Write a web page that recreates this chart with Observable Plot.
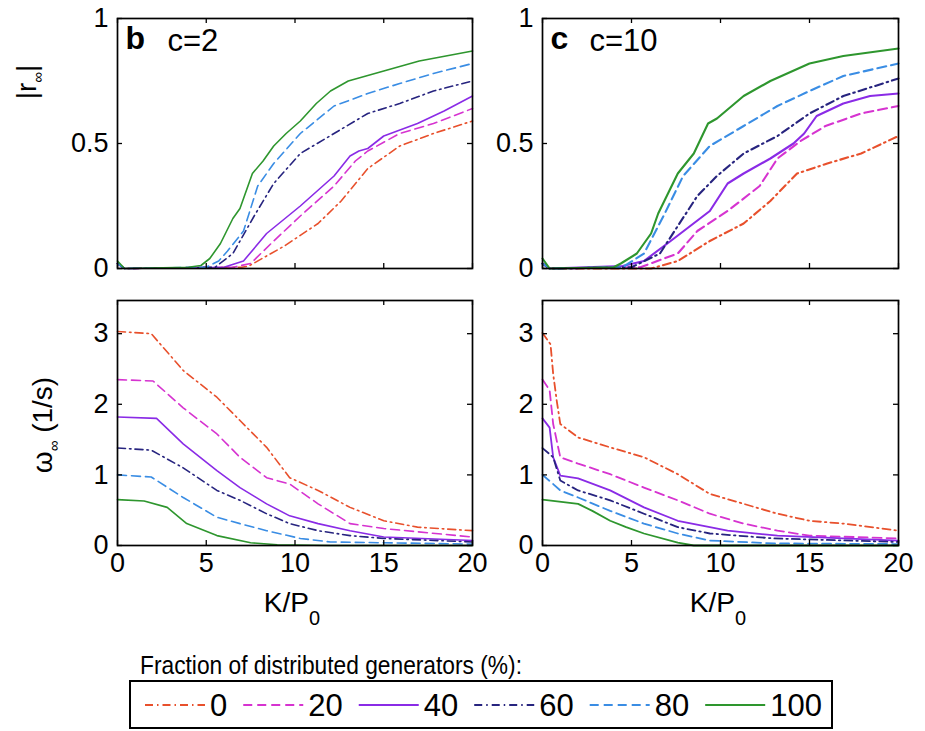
<!DOCTYPE html>
<html><head><meta charset="utf-8">
<script src="https://cdn.jsdelivr.net/npm/d3@7"></script>
<script src="https://cdn.jsdelivr.net/npm/@observablehq/plot@0.6"></script>
<style>
body{margin:0;background:#fff;}
#fig{position:relative;width:925px;height:731px;overflow:hidden;background:#fff;}
#fig > svg{position:absolute;overflow:visible;}
</style></head><body><div id="fig"></div>
<script>
const FONT = "'Liberation Sans',Arial,Helvetica,sans-serif";
const fractions = [0, 20, 40, 60, 80, 100];
const colors = ["#e8502c", "#d633d0", "#8a2be6", "#27247f", "#3a8de4", "#2e962e"];
const dashes = ["8,4,1.5,4", "9,5", null, "8,4,1.5,4", "9,5", null];
const xTicks = [0, 5, 10, 15, 20];
const rTicks = [0, 0.5, 1];
const wTicks = [0, 1, 2, 3];

// |r_inf| vs K/P0, c = 2
const r_c2_0   = [[0,0.02],[0.4,0],[7,0.005],[7.4,0.01],[9.4,0.09],[11.3,0.18],[12.6,0.27],[14.1,0.40],[15.9,0.49],[17.8,0.54],[20,0.59]];
const r_c2_20  = [[0,0.02],[0.4,0],[6.5,0.005],[7.5,0.02],[8.8,0.11],[10.3,0.21],[12.2,0.33],[13.4,0.43],[14.1,0.47],[15.9,0.54],[17.8,0.58],[20,0.64]];
const r_c2_40  = [[0,0.02],[0.4,0],[6,0.005],[7.1,0.03],[8.4,0.14],[10.3,0.25],[12.2,0.37],[13.1,0.45],[13.6,0.47],[14.1,0.48],[15,0.53],[16.9,0.58],[18.4,0.63],[20,0.69]];
const r_c2_60  = [[0,0.02],[0.4,0],[5.5,0.005],[6.5,0.06],[7.7,0.21],[8.8,0.34],[10.3,0.46],[12.2,0.54],[14.1,0.62],[15.9,0.66],[17.8,0.71],[20,0.75]];
const r_c2_80  = [[0,0.02],[0.4,0],[5,0.005],[5.7,0.03],[6.2,0.07],[7.1,0.15],[7.9,0.33],[8.8,0.42],[10.3,0.54],[12.2,0.65],[14.1,0.70],[15.9,0.74],[17.8,0.78],[20,0.82]];
const r_c2_100 = [[0,0.03],[0.4,0],[4,0.005],[4.7,0.012],[5.2,0.04],[5.8,0.1],[6.5,0.2],[6.9,0.24],[7.6,0.38],[8.2,0.43],[8.8,0.49],[9.5,0.54],[10.3,0.59],[11.2,0.66],[12,0.71],[13,0.75],[14,0.77],[15,0.79],[16,0.81],[17,0.83],[18.5,0.85],[20,0.87]];

// |r_inf| vs K/P0, c = 10
const r_c10_0   = [[0,0.02],[0.4,0],[6.1,0],[7.6,0.03],[9.4,0.11],[11.3,0.18],[12.8,0.27],[14.3,0.38],[16,0.42],[17.9,0.46],[20,0.53]];
const r_c10_20  = [[0,0.02],[0.4,0],[5.5,0.005],[7.6,0.06],[8.7,0.15],[10.4,0.23],[12.2,0.33],[13.2,0.44],[14.5,0.51],[15.9,0.57],[17.9,0.62],[20,0.65]];
const r_c10_40  = [[0,0.02],[0.4,0],[4.5,0.01],[5.7,0.03],[7.2,0.11],[9.4,0.23],[10.4,0.34],[11.3,0.38],[12.8,0.44],[14.1,0.50],[14.7,0.54],[15.4,0.61],[16.9,0.66],[18.4,0.69],[20,0.70]];
const r_c10_60  = [[0,0.02],[0.4,0],[5,0.005],[6.6,0.06],[7.6,0.17],[8.7,0.29],[9.8,0.37],[11.3,0.46],[13.2,0.53],[15,0.62],[16.9,0.69],[20,0.76]];
const r_c10_80  = [[0,0.02],[0.4,0],[4.5,0.005],[5.7,0.06],[6.8,0.21],[7.9,0.37],[9.4,0.49],[11.3,0.57],[13.2,0.65],[15,0.71],[16.9,0.77],[20,0.82]];
const r_c10_100 = [[0,0.04],[0.4,0],[4,0.005],[4.4,0.02],[5.3,0.06],[6.1,0.14],[6.5,0.22],[7.6,0.38],[8.5,0.46],[9.3,0.58],[9.8,0.60],[11.3,0.69],[12.8,0.75],[15,0.82],[16.9,0.85],[20,0.88]];

// omega_inf (1/s) vs K/P0, c = 2
const w_c2_0   = [[0,3.03],[1.9,3.0],[3.7,2.48],[5.6,2.1],[6.9,1.77],[8.4,1.39],[9.7,0.96],[11.3,0.78],[13.1,0.54],[15,0.35],[16.9,0.26],[20,0.21]];
const w_c2_20  = [[0,2.35],[2,2.33],[3.7,1.95],[5.6,1.58],[6.9,1.25],[8.4,0.96],[9.7,0.87],[11.3,0.59],[13.1,0.31],[15,0.24],[20,0.12]];
const w_c2_40  = [[0,1.82],[2.2,1.8],[3.7,1.44],[5.6,1.06],[6.9,0.82],[8.4,0.59],[9.7,0.42],[11.3,0.31],[13.1,0.21],[15,0.12],[20,0.07]];
const w_c2_60  = [[0,1.38],[1.9,1.35],[3.7,1.1],[5.6,0.78],[6.9,0.64],[8.4,0.45],[9.7,0.31],[11.3,0.21],[13.1,0.14],[15,0.1],[20,0.05]];
const w_c2_80  = [[0,1.0],[1.9,0.97],[3.7,0.68],[5.6,0.4],[6.9,0.31],[8.4,0.21],[10.3,0.1],[12,0.05],[20,0.02]];
const w_c2_100 = [[0,0.65],[1.5,0.63],[2.8,0.54],[3.9,0.31],[5.6,0.14],[7.5,0.04],[9,0.01],[12,0],[20,0]];

// omega_inf (1/s) vs K/P0, c = 10
const w_c10_0   = [[0,3.01],[0.45,2.85],[0.6,2.43],[0.8,2.05],[1.0,1.72],[2,1.53],[3.8,1.39],[5.7,1.25],[7.6,1.01],[9.4,0.73],[11.3,0.59],[13.2,0.45],[15,0.35],[16.9,0.31],[20,0.21]];
const w_c10_20  = [[0,2.35],[0.4,2.2],[0.6,1.72],[1.0,1.25],[2,1.16],[3.8,1.01],[5.7,0.82],[7.6,0.64],[9.4,0.45],[11.3,0.31],[13.2,0.21],[15,0.14],[20,0.1]];
const w_c10_40  = [[0,1.8],[0.4,1.67],[0.6,1.25],[1.0,0.99],[2,0.95],[3.8,0.78],[5.7,0.54],[7.6,0.35],[9.4,0.26],[10.4,0.21],[13.2,0.14],[16.9,0.1],[20,0.07]];
const w_c10_60  = [[0,1.38],[0.6,1.25],[1.0,0.92],[2,0.78],[3.8,0.64],[5.7,0.45],[7.6,0.26],[9.4,0.17],[13,0.1],[20,0.05]];
const w_c10_80  = [[0,1.0],[0.6,0.87],[1.0,0.78],[2,0.68],[3.8,0.49],[5.7,0.31],[7.6,0.17],[9.4,0.07],[13,0.03],[20,0.02]];
const w_c10_100 = [[0,0.65],[2,0.59],[2.8,0.49],[3.8,0.35],[4.7,0.26],[5.7,0.17],[7.6,0.04],[8.5,0],[20,0]];

const fig = document.getElementById("fig");

function panel({series, yDomain, yTicks, showX, tag, cLabel, cdx, lw, left, top, fw, fh}) {
  const mL = 70, mR = 14, mT = 10, mB = showX ? 42 : 10;
  const marks = [];
  series.forEach((pts, i) => {
    marks.push(Plot.line(pts.map(([K, v]) => ({K, v})), {
      x: "K", y: "v", stroke: colors[i], strokeWidth: lw,
      strokeDasharray: dashes[i] || undefined
    }));
  });
  marks.push(Plot.tickX(xTicks, {x: d => d, insetTop: fh - 5, stroke: "black", strokeWidth: 1.3}));
  marks.push(Plot.tickX(xTicks, {x: d => d, insetBottom: fh - 5, stroke: "black", strokeWidth: 1.3}));
  marks.push(Plot.tickY(yTicks, {y: d => d, insetRight: fw - 5, stroke: "black", strokeWidth: 1.3}));
  marks.push(Plot.tickY(yTicks, {y: d => d, insetLeft: fw - 5, stroke: "black", strokeWidth: 1.3}));
  marks.push(Plot.frame({stroke: "black", strokeWidth: 1.7}));
  if (tag) {
    marks.push(Plot.text([tag], {text: d => d, frameAnchor: "top-left", dx: 8, dy: 8, fontWeight: "bold", fontSize: 32, fill: "black"}));
    marks.push(Plot.text([cLabel], {text: d => d, frameAnchor: "top-left", dx: cdx, dy: 10, fontSize: 31, fill: "black"}));
  }
  const svg = Plot.plot({
    width: mL + fw + mR, height: mT + fh + mB,
    marginLeft: mL, marginRight: mR, marginTop: mT, marginBottom: mB,
    style: {fontFamily: FONT, fontSize: "27px", background: "transparent", overflow: "visible", color: "black"},
    x: {domain: [0, 20], ticks: xTicks, tickSize: 0, tickPadding: 7, label: null, axis: showX ? "bottom" : null},
    y: {domain: yDomain, ticks: yTicks, tickSize: 0, tickPadding: 9, label: null, tickFormat: d => String(d)},
    marks
  });
  svg.style.left = (left - mL) + "px";
  svg.style.top = (top - mT) + "px";
  fig.appendChild(svg);
}

panel({series: [r_c2_0, r_c2_20, r_c2_40, r_c2_60, r_c2_80, r_c2_100], yDomain: [0, 1], yTicks: rTicks, showX: false, tag: "b", cLabel: "c=2", cdx: 50, lw: 1.6, left: 117, top: 18, fw: 355, fh: 250});
panel({series: [r_c10_0, r_c10_20, r_c10_40, r_c10_60, r_c10_80, r_c10_100], yDomain: [0, 1], yTicks: rTicks, showX: false, tag: "c", cLabel: "c=10", cdx: 47, lw: 2.1, left: 542, top: 18, fw: 356, fh: 250});
panel({series: [w_c2_0, w_c2_20, w_c2_40, w_c2_60, w_c2_80, w_c2_100], yDomain: [0, 3.47], yTicks: wTicks, showX: true, tag: "", cLabel: "", lw: 1.6, left: 117, top: 300, fw: 355, fh: 245});
panel({series: [w_c10_0, w_c10_20, w_c10_40, w_c10_60, w_c10_80, w_c10_100], yDomain: [0, 3.47], yTicks: wTicks, showX: true, tag: "", cLabel: "", lw: 1.8, left: 542, top: 300, fw: 356, fh: 245});

// overlay: axis titles + legend
const ov = d3.select(fig).append("svg").attr("width", 925).attr("height", 731)
  .style("left", "0px").style("top", "0px")
  .attr("font-family", FONT).attr("fill", "black");

function ylab(x, y, main, sub, rest) {
  const t = ov.append("text").attr("transform", `translate(${x},${y}) rotate(-90)`)
    .attr("text-anchor", "middle").attr("font-size", 28);
  t.append("tspan").text(main);
  t.append("tspan").attr("font-size", 15).attr("dy", 7).text(sub);
  t.append("tspan").attr("dy", -7).text(rest);
}
ylab(36, 82, "|r", "\u221e", "|");
ylab(52, 425, "\u03c9", "\u221e", " (1/s)");

function xlab(cx, y) {
  const t = ov.append("text").attr("x", cx).attr("y", y).attr("text-anchor", "middle").attr("font-size", 28);
  t.append("tspan").text("K/P");
  t.append("tspan").attr("font-size", 20).attr("dy", 13).text("0");
}
xlab(292, 612);
xlab(718, 612);

// legend
ov.append("text").attr("x", 140).attr("y", 674).attr("font-size", 26)
  .attr("textLength", 382).attr("lengthAdjust", "spacingAndGlyphs")
  .text("Fraction of distributed generators (%):");
ov.append("rect").attr("x", 130).attr("y", 681).attr("width", 702).attr("height", 47)
  .attr("fill", "none").attr("stroke", "black").attr("stroke-width", 2);
let cur = 145;
fractions.forEach((f, i) => {
  ov.append("line").attr("x1", cur).attr("x2", cur + 60).attr("y1", 705).attr("y2", 705)
    .attr("stroke", colors[i]).attr("stroke-width", 2.2)
    .attr("stroke-dasharray", dashes[i]);
  const t = ov.append("text").attr("x", cur + 65).attr("y", 716).attr("font-size", 31).text(String(f));
  cur = cur + 65 + t.node().getComputedTextLength() + 16;
});
</script></body></html>
